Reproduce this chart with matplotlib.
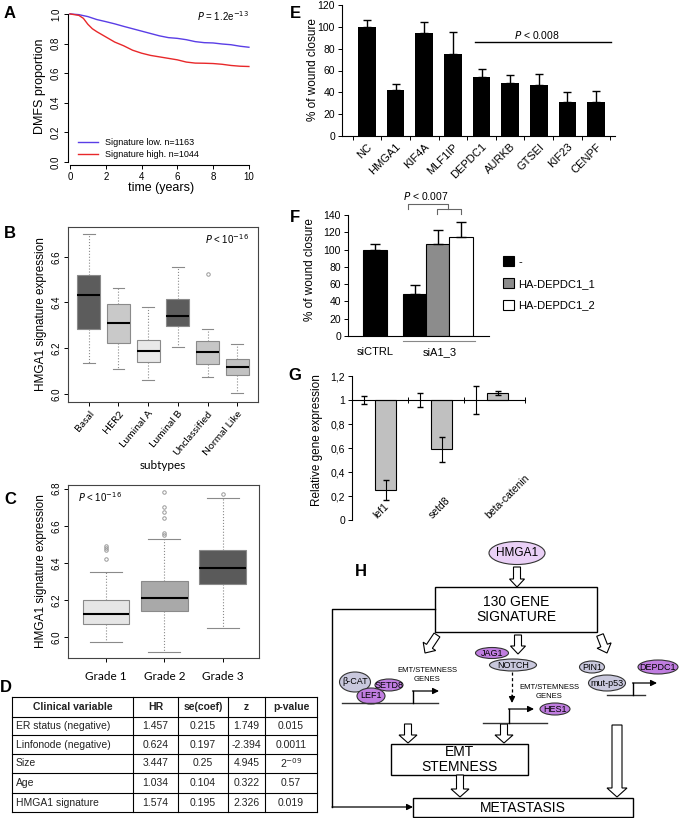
import numpy as np
import matplotlib.pyplot as plt
import matplotlib.patches as mpatches
import matplotlib.transforms as mtransforms

W, H = 679, 818
plt.rcParams['font.family'] = ['Liberation Sans', 'DejaVu Sans']
plt.rcParams['axes.linewidth'] = 0.8

# ---- A: Kaplan-Meier DMFS ----
km_t_low = [0, 0.5, 1, 1.5, 2, 2.5, 3, 3.5, 4, 4.5, 5, 5.5, 6, 6.5, 7, 7.5, 8, 8.5, 9, 9.5, 10]
km_low = [1.0, 0.995, 0.982, 0.962, 0.948, 0.933, 0.916, 0.9, 0.884, 0.868, 0.852, 0.84, 0.835,
          0.826, 0.813, 0.806, 0.804, 0.797, 0.792, 0.782, 0.775]
km_t_high = [0, 0.5, 0.75, 1, 1.25, 1.5, 2, 2.5, 3, 3.5, 4, 4.5, 5, 5.5, 6, 6.5, 7, 7.5, 8, 8.5, 9, 9.5, 10]
km_high = [1.0, 0.99, 0.97, 0.93, 0.9, 0.88, 0.845, 0.81, 0.785, 0.755, 0.735, 0.72, 0.71, 0.7,
           0.69, 0.675, 0.668, 0.667, 0.665, 0.66, 0.652, 0.647, 0.645]

# ---- B: subtypes ----
subtypes = ['Basal', 'HER2', 'Luminal A', 'Luminal B', 'Unclassified', 'Normal Like']
sub_whislo = [6.134, 6.110, 6.060, 6.206, 6.074, 6.004]
sub_q1 = [6.285, 6.222, 6.138, 6.296, 6.132, 6.084]
sub_med = [6.433, 6.312, 6.186, 6.341, 6.182, 6.118]
sub_q3 = [6.519, 6.392, 6.237, 6.414, 6.232, 6.153]
sub_whishi = [6.700, 6.462, 6.379, 6.556, 6.285, 6.218]
sub_fliers = [[], [], [], [], [6.525], []]
sub_colors = ['#5c5c5c', '#c9c9c9', '#e9e9e9', '#5c5c5c', '#c6c6c6', '#c2c2c2']

# ---- C: grades ----
grades = ['Grade 1', 'Grade 2', 'Grade 3']
grade_whislo = [5.973, 5.92, 6.05]
grade_q1 = [6.07, 6.14, 6.286]
grade_med = [6.124, 6.21, 6.373]
grade_q3 = [6.2, 6.30, 6.47]
grade_whishi = [6.35, 6.53, 6.75]
grade_fliers = [[6.42, 6.47, 6.48, 6.49], [6.55, 6.56, 6.64, 6.675, 6.70, 6.78], [6.77]]
grade_colors = ['#e6e6e6', '#a9a9a9', '#5a5a5a']

# ---- D: Cox table ----
d_header = ['Clinical variable', 'HR', 'se(coef)', 'z', 'p-value']
d_vars = ['ER status (negative)', 'Linfonode (negative)', 'Size', 'Age', 'HMGA1 signature']
d_hr = ['1.457', '0.624', '3.447', '1.034', '1.574']
d_se = ['0.215', '0.197', '0.25', '0.104', '0.195']
d_z = ['1.749', '-2.394', '4.945', '0.322', '2.326']
d_p = ['0.015', '0.0011', '2$^{-09}$', '0.57', '0.019']

# ---- E: wound closure siRNA screen ----
genes_e = ['NC', 'HMGA1', 'KIF4A', 'MLF1IP', 'DEPDC1', 'AURKB', 'GTSEI', 'KIF23', 'CENPF']
wound_e = [100, 42, 94, 75, 54, 49, 46.5, 31, 31]
wound_e_err = [6, 5.5, 10.5, 20, 7, 6.5, 10, 9, 10.5]

# ---- F: rescue ----
f_groups = ['siCTRL', 'siA1_3']
f_labels = ['-', 'HA-DEPDC1_1', 'HA-DEPDC1_2']
f_vals = [100, 49, 106, 114.5]
f_err = [7, 10.5, 17, 17]

# ---- G: relative expression ----
g_genes = ['lef1', 'setd8', 'beta-catenin']
g_ctrl = [1.0, 1.0, 1.0]
g_ctrl_err = [0.036, 0.058, 0.118]
g_vals = [0.25, 0.59, 1.061]
g_err = [0.08, 0.105, 0.018]
g_ticklabels = ['0', '0,2', '0,4', '0,6', '0,8', '1', '1,2']

fig = plt.figure(figsize=(W / 100, H / 100), dpi=100)


def px_axes(x0, y0, x1, y1):
    return fig.add_axes([x0 / W, 1 - y1 / H, (x1 - x0) / W, (y1 - y0) / H])


def ftext(x, y, s, **kw):
    fig.text(x / W, 1 - y / H, s, **kw)


# panel letters
for lab, x, y in [('A', 10, 13), ('B', 10, 233), ('C', 10, 499), ('D', 6, 687),
                  ('E', 295, 13), ('F', 295, 218), ('G', 295, 375), ('H', 361, 571)]:
    ftext(x, y, lab, fontsize=12, fontweight='bold', ha='center', va='center')

# ---------------- A ----------------
axA = px_axes(68, 8, 255, 165)
axA.plot(km_t_low, km_low, color='#5a3ee6', lw=1, label='Signature low. n=1163')
axA.plot(km_t_high, km_high, color='#e8282a', lw=1, label='Signature high. n=1044')
axA.set_xlim(-0.11, 10.34)
axA.set_ylim(-0.02, 1.04)
for s in ['top', 'right']:
    axA.spines[s].set_visible(False)
axA.spines['left'].set_bounds(0, 1)
axA.spines['bottom'].set_bounds(0, 10)
axA.set_xticks(range(0, 11, 2))
axA.set_yticks(np.arange(0, 1.01, 0.2), ['%.1f' % v for v in np.arange(0, 1.01, 0.2)])
axA.tick_params(labelsize=7, length=3, width=0.7, pad=2)
for t in axA.get_yticklabels():
    t.set_rotation(90)
    t.set_va('center')
axA.set_xlabel('time (years)', fontsize=9, labelpad=0)
axA.set_ylabel('DMFS proportion', fontsize=9, labelpad=4)
axA.text(0.97, 0.95, r'$P$ = 1.2e$^{-13}$', transform=axA.transAxes, ha='right', va='center', fontsize=7)
axA.legend(loc='lower left', bbox_to_anchor=(0.02, 0.0), frameon=False, fontsize=6.5,
           handlelength=2.2, labelspacing=0.25, borderaxespad=0.3)


def box_panel(ax, labels, lo, q1, med, q3, hi, fliers, colors, width, capw):
    stats = []
    for i in range(len(labels)):
        stats.append(dict(med=med[i], q1=q1[i], q3=q3[i], whislo=lo[i], whishi=hi[i],
                          fliers=fliers[i], label=labels[i]))
    pos = np.arange(1, len(labels) + 1)
    bp = ax.bxp(stats, positions=pos, widths=width, capwidths=capw, patch_artist=True,
                boxprops=dict(edgecolor='#8a8a8a', lw=0.8),
                whiskerprops=dict(color='#8a8a8a', ls=':', lw=0.8),
                capprops=dict(color='#8a8a8a', lw=0.8),
                medianprops=dict(color='black', lw=1.5),
                flierprops=dict(marker='o', ms=2.5, mfc='none', mec='#999999', mew=0.7))
    for patch, c in zip(bp['boxes'], colors):
        patch.set_facecolor(c)
    for s in ax.spines.values():
        s.set_color('#444444')
    return pos


# ---------------- B ----------------
axB = px_axes(68, 227, 258, 402)
posB = box_panel(axB, subtypes, sub_whislo, sub_q1, sub_med, sub_q3, sub_whishi, sub_fliers,
                 sub_colors, 0.77, 0.4)
axB.set_xlim(0.3, 6.7)
axB.set_ylim(5.965, 6.73)
axB.set_yticks([6.0, 6.2, 6.4, 6.6], ['6.0', '6.2', '6.4', '6.6'])
axB.tick_params(labelsize=7, length=3, width=0.7, pad=2)
for t in axB.get_yticklabels():
    t.set_rotation(90)
    t.set_va('center')
axB.set_xticks(posB, subtypes, rotation=50, ha='right', rotation_mode='anchor',
               fontfamily='Lato', fontsize=7.5)
axB.set_xlabel('subtypes', fontfamily='Lato', fontsize=8.5, labelpad=2)
axB.set_ylabel('HMGA1 signature expression', fontsize=8.5, labelpad=3)
axB.text(0.95, 0.93, r'$P$ < 10$^{-16}$', transform=axB.transAxes, ha='right', va='center', fontsize=7)

# ---------------- C ----------------
axC = px_axes(68, 485, 259, 658)
posC = box_panel(axC, grades, grade_whislo, grade_q1, grade_med, grade_q3, grade_whishi,
                 grade_fliers, grade_colors, 0.8, 0.55)
axC.set_xlim(0.35, 3.62)
axC.set_ylim(5.886, 6.82)
axC.set_yticks([6.0, 6.2, 6.4, 6.6, 6.8], ['6.0', '6.2', '6.4', '6.6', '6.8'])
axC.tick_params(labelsize=7, length=3, width=0.7, pad=2)
for t in axC.get_yticklabels():
    t.set_rotation(90)
    t.set_va('center')
axC.set_xticks(posC, grades, fontfamily='Lato', fontsize=8.5)
axC.tick_params(axis='x', pad=6)
axC.set_ylabel('HMGA1 signature expression', fontsize=8.5, labelpad=3)
axC.text(0.05, 0.93, r'$P$ < 10$^{-16}$', transform=axC.transAxes, ha='left', va='center', fontsize=7)

# ---------------- D ----------------
axD = px_axes(12, 697, 317, 812)
axD.set_xlim(0, 305)
axD.set_ylim(115, 0)
axD.axis('off')
col_edges = [0, 121, 166, 216, 253, 305]
row_edges = [0, 20, 38, 57, 76, 96, 115]
for x in col_edges:
    axD.plot([x, x], [0, 115], color='black', lw=0.8, clip_on=False)
for y in row_edges:
    axD.plot([0, 305], [y, y], color='black', lw=0.8, clip_on=False)
rows = [d_header] + [[d_vars[i], d_hr[i], d_se[i], d_z[i], d_p[i]] for i in range(len(d_vars))]
for r, row in enumerate(rows):
    yc = (row_edges[r] + row_edges[r + 1]) / 2
    for c, val in enumerate(row):
        weight = 'bold' if r == 0 else 'normal'
        if c == 0 and r > 0:
            axD.text(col_edges[0] + 4, yc, val, ha='left', va='center', fontsize=7.5, color='#222222')
        else:
            xc = (col_edges[c] + col_edges[c + 1]) / 2
            axD.text(xc, yc, val, ha='center', va='center', fontsize=7.5, fontweight=weight,
                     color='#222222')

# ---------------- E ----------------
axE = px_axes(342, 5, 615, 136)
xE = np.arange(len(genes_e))
axE.bar(xE, wound_e, width=0.62, color='black')
axE.errorbar(xE, wound_e, yerr=[np.zeros(len(xE)), wound_e_err], fmt='none', ecolor='black',
             elinewidth=1, capsize=3, capthick=1)
axE.set_xlim(-0.87, 8.66)
axE.set_ylim(0, 120)
for s in ['top', 'right']:
    axE.spines[s].set_visible(False)
axE.set_yticks(range(0, 121, 20))
axE.set_xticks(xE, genes_e, rotation=45, ha='right', rotation_mode='anchor', fontsize=8)
axE.set_xticks(np.arange(-0.5, 9, 1), minor=True)
axE.tick_params(axis='x', which='major', length=0, pad=4)
axE.tick_params(axis='x', which='minor', length=3, width=0.7)
axE.tick_params(axis='y', labelsize=7.5, length=3, width=0.7, pad=2)
axE.plot([3.77, 8.52], [86.5, 86.5], color='black', lw=1, clip_on=False)
axE.text(5.94, 92.5, r'$P$ < 0.008', ha='center', va='center', fontsize=7.5)
ftext(313, 70, '% of wound closure', rotation=90, ha='center', va='center', fontsize=8.5)

# ---------------- F ----------------
axF = px_axes(348, 215, 489, 336)
xF = [0, 1.7, 2.7, 3.7]
f_colors = ['black', 'black', '#8c8c8c', 'white']
axF.bar(xF, f_vals, width=1.0, color=f_colors, edgecolor='black', lw=0.8)
axF.errorbar(xF, f_vals, yerr=[np.zeros(len(xF)), f_err], fmt='none', ecolor='black',
             elinewidth=1, capsize=3.5, capthick=1)
axF.set_xlim(-1.16, 4.9)
axF.set_ylim(0, 140)
for s in ['top', 'right']:
    axF.spines[s].set_visible(False)
axF.set_yticks(range(0, 141, 20))
axF.set_xticks([])
axF.tick_params(axis='y', labelsize=7.5, length=3, width=0.7, pad=2)
trF = mtransforms.blended_transform_factory(axF.transData, axF.transAxes)
axF.plot([1.2, 4.29], [-0.04, -0.04], color='#888888', lw=0.8, transform=trF, clip_on=False)
axF.text(xF[0], -0.09, f_groups[0], transform=trF, ha='center', va='top', fontsize=8)
axF.text(2.8, -0.09, f_groups[1], transform=trF, ha='center', va='top', fontsize=8)
axF.plot([1.42, 1.42, 3.13, 3.13], [147.3, 153, 153, 147.3], color='#666666', lw=0.8, clip_on=False)
axF.plot([2.66, 2.66, 3.69, 3.69], [141.5, 147.3, 147.3, 141.5], color='#666666', lw=0.8, clip_on=False)
axF.text(2.19, 162, r'$P$ < 0.007', ha='center', va='center', fontsize=7.5)
handles = [mpatches.Patch(facecolor=c, edgecolor='black', lw=0.8) for c in ['black', '#8c8c8c', 'white']]
fig.legend(handles, f_labels, loc='upper left', bbox_to_anchor=(493 / W, 1 - 246 / H), frameon=False,
           fontsize=8, handlelength=1.0, handleheight=1.0, labelspacing=1.0, handletextpad=0.4)
ftext(310, 270, '% of wound closure', rotation=90, ha='center', va='center', fontsize=8.5)

# ---------------- G ----------------
axG = px_axes(352, 376, 525, 520)
xG = np.arange(len(g_genes))
x_ctrl = xG + 0.22
x_gene = xG + 0.6
axG.bar(x_gene, np.array(g_vals) - 1, bottom=1, width=0.375, color='#c0c0c0', edgecolor='black', lw=0.8)
axG.errorbar(x_gene, g_vals, yerr=g_err, fmt='none', ecolor='black', elinewidth=0.8, capsize=2.5)
axG.errorbar(x_ctrl, g_ctrl, yerr=g_ctrl_err, fmt='none', ecolor='black', elinewidth=0.8, capsize=2.5)
axG.set_xlim(0, 3.09)
axG.set_ylim(0, 1.2)
for s in ['top', 'right']:
    axG.spines[s].set_visible(False)
axG.spines['bottom'].set_position(('data', 1))
axG.set_xticks([1, 2, 3.09], ['', '', ''])
axG.tick_params(axis='x', direction='inout', length=4, width=0.7)
axG.set_yticks(np.arange(0, 1.21, 0.2), g_ticklabels)
axG.tick_params(axis='y', labelsize=7.5, length=3, width=0.7, pad=2)
for xg, name in zip(x_gene, g_genes):
    axG.text(xg - 0.13, 0.0, name, rotation=45, ha='left', va='bottom', rotation_mode='anchor',
             fontsize=7.5)
ftext(317, 440, 'Relative gene expression', rotation=90, ha='center', va='center', fontsize=8.5)

# ---------------- H: diagram ----------------
axH = fig.add_axes([0, 0, 1, 1], facecolor='none')
axH.set_xlim(0, W)
axH.set_ylim(H, 0)
axH.axis('off')

violet = '#c07de0'
lavender = '#c9c8dd'


def blob(x, y, w, h, txt, fc, fs=6.5):
    axH.add_patch(mpatches.Ellipse((x, y), w, h, facecolor=fc, edgecolor='#333333', lw=0.8))
    axH.text(x, y, txt, ha='center', va='center', fontsize=fs)


def hollow(x0, y0, x1, y1, w=7, hw=15, hl=8):
    axH.add_patch(mpatches.FancyArrow(x0, y0, x1 - x0, y1 - y0, width=w, head_width=hw,
                                      head_length=hl, length_includes_head=True,
                                      facecolor='white', edgecolor='black', lw=0.8))


def box(x0, y0, x1, y1, lines, fs=9.5):
    axH.add_patch(mpatches.Rectangle((x0, y0), x1 - x0, y1 - y0, facecolor='white',
                                     edgecolor='black', lw=1))
    axH.text((x0 + x1) / 2, (y0 + y1) / 2, lines, ha='center', va='center', fontsize=fs,
             linespacing=1.1)


def head(x0, y0, x1, y1, ls='-'):
    axH.annotate('', xy=(x1, y1), xytext=(x0, y0),
                 arrowprops=dict(arrowstyle='-|>', color='black', lw=0.9, mutation_scale=9,
                                 shrinkA=0, shrinkB=0, linestyle=ls))


# outer connector to metastasis
axH.plot([435, 332, 332], [609, 609, 807], color='black', lw=1)
head(332, 807, 413, 807)

blob(517, 553, 56, 23, 'HMGA1', '#ead0f6', fs=8.5)
hollow(517, 567, 517, 587, w=7, hw=15, hl=8)
box(435, 587, 597, 632, '130 GENE\nSIGNATURE', fs=10)

hollow(437, 635, 425, 653, w=7, hw=15, hl=8)
hollow(518, 635, 518, 654, w=7, hw=15, hl=8)
hollow(600, 635, 607, 653, w=7, hw=15, hl=8)

# left promoter
axH.plot([342, 438], [703, 703], color='#333333', lw=1)
axH.plot([413, 413], [703, 691], color='black', lw=1)
head(412.5, 691, 439, 691)
axH.text(427, 675, 'EMT/STEMNESS\nGENES', ha='center', va='center', fontsize=5.5, linespacing=1.3)
blob(355, 682, 31, 20, '\u03b2-CAT', lavender)
blob(389, 685, 28, 12, 'SETD8', violet)
blob(371, 696, 28, 16, 'LEF1', violet)

# middle NOTCH pathway
blob(513, 665, 47, 12, 'NOTCH', lavender)
blob(492, 653, 33, 11, 'JAG1', violet)
axH.plot([512, 512], [672, 696], color='black', lw=0.9, ls=(0, (2.5, 2)))
head(512, 695, 512, 703)
axH.text(549, 692, 'EMT/STEMNESS\nGENES', ha='center', va='center', fontsize=5.5, linespacing=1.3)
axH.plot([483, 547], [723, 723], color='#333333', lw=1)
axH.plot([509, 509], [723, 709], color='black', lw=1)
head(508.5, 709, 534, 709)
blob(555, 709, 30, 12, 'HES1', violet)

# right DEPDC1
blob(592, 667, 25, 12, 'PIN1', lavender)
blob(607, 683, 37, 16, 'mut-p53', lavender)
blob(658, 667, 40, 14, 'DEPDC1', violet)
axH.plot([607, 645], [695, 695], color='#333333', lw=1)
axH.plot([633, 633], [695, 683], color='black', lw=1)
head(632.5, 683, 657, 683)

# lower boxes
hollow(408, 724, 408, 743, w=7, hw=18, hl=8)
hollow(504, 724, 504, 743, w=7, hw=18, hl=8)
box(391, 744, 528, 775, 'EMT\nSTEMNESS', fs=10)
hollow(460, 775, 460, 797, w=7, hw=18, hl=8)
hollow(617, 725, 617, 797, w=10, hw=20, hl=9)
box(413, 798, 633, 817, 'METASTASIS', fs=10)

fig.savefig('out.png', dpi=100)
